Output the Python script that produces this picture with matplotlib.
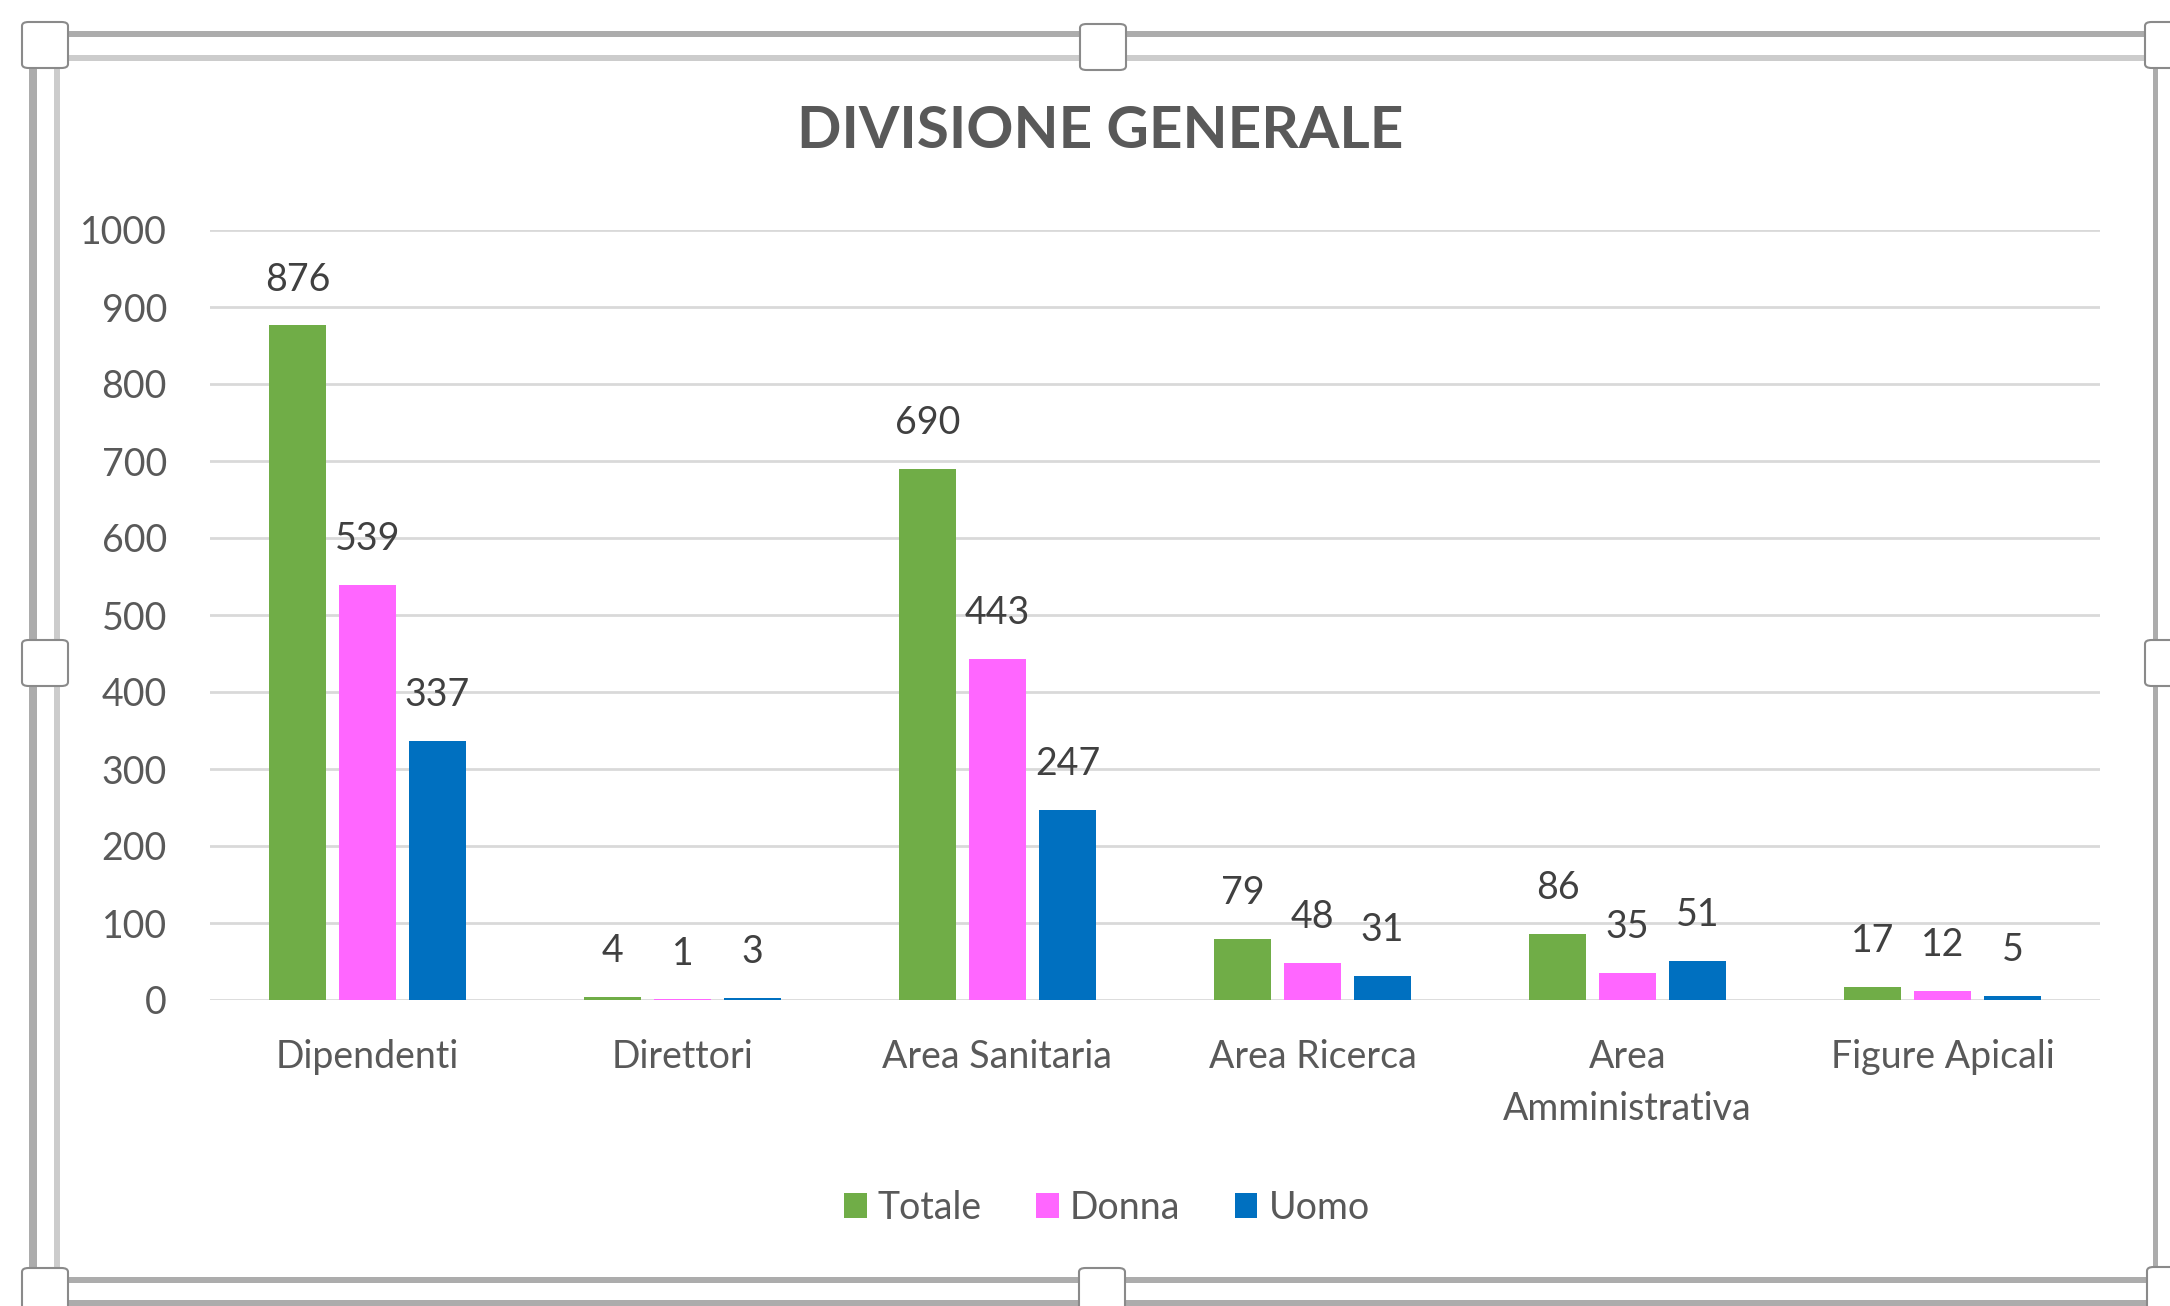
"""
Grouped bar chart: DIVISIONE GENERALE (Totale / Donna / Uomo by category),
drawn inside an Excel-like selection frame.
"""

import numpy as np
import matplotlib
matplotlib.use("Agg")
import matplotlib.pyplot as plt
from matplotlib.patches import Patch, FancyBboxPatch, Rectangle

# Data
categories = ["Dipendenti", "Direttori", "Area Sanitaria", "Area Ricerca",
              "Area\nAmministrativa", "Figure Apicali"]
totale = [876, 4, 690, 79, 86, 17]
donna = [539, 1, 443, 48, 35, 12]
uomo = [337, 3, 247, 31, 51, 5]
series_names = ["Totale", "Donna", "Uomo"]
colors = ["#70ad47", "#ff66ff", "#0070c0"]

W, H = 2170, 1306
plt.rcParams["font.family"] = ["Lato", "DejaVu Sans"]

fig = plt.figure(figsize=(W / 100, H / 100), dpi=100)
fig.patch.set_facecolor("white")


def fx(x):
    return x / W


def fy(y):
    return 1 - y / H


# Plot area (pixel box 210..2100 x 230..1000)
ax = fig.add_axes([fx(210), fy(1000), fx(2100) - fx(210), fy(230) - fy(1000)])

x = np.arange(len(categories))
width = 0.18
step = 0.222
for i, (vals, name, col) in enumerate(zip([totale, donna, uomo], series_names, colors)):
    pos = x + (i - 1) * step
    bars = ax.bar(pos, vals, width=width, color=col, zorder=3, label=name)
    for b, v in zip(bars, vals):
        ax.annotate(str(v), (b.get_x() + b.get_width() / 2, v),
                    xytext=(0, 25), textcoords="offset points",
                    ha="center", va="baseline", fontsize=27, color="#404040")

ax.set_xlim(-0.5, len(categories) - 0.5)
ax.set_ylim(0, 1000)
ax.set_yticks(range(0, 1001, 100))
ax.set_xticks(x)
ax.set_xticklabels(categories, linespacing=1.55)
ax.tick_params(axis="y", length=0, pad=31, labelsize=27, labelcolor="#595959")
ax.tick_params(axis="x", length=0, pad=28, labelsize=27, labelcolor="#595959")
ax.grid(axis="y", color="#d9d9d9", linewidth=2.0, zorder=0)
ax.set_axisbelow(True)
for s in ax.spines.values():
    s.set_visible(False)

# Title
fig.text(fx(1100), fy(132), "DIVISIONE GENERALE", ha="center", va="center",
         fontsize=42, fontweight="bold", color="#595959")

# Legend
handles = [Patch(facecolor=c, edgecolor="none") for c in colors]
fig.legend(handles, series_names, loc="center", bbox_to_anchor=(fx(1107), fy(1208)),
           ncol=3, frameon=False, fontsize=27, labelcolor="#595959",
           handlelength=0.6, handleheight=0.65, handletextpad=0.3,
           columnspacing=1.45)

# Selection frame of the screenshot
def band(y0, y1, x0, x1, col):
    fig.add_artist(Rectangle((fx(x0), fy(y1)), fx(x1) - fx(x0), fy(y0) - fy(y1),
                             transform=fig.transFigure, facecolor=col,
                             edgecolor="none", zorder=5))


band(31, 37, 33, 2160, "#acacac")      # outer top
band(55, 61, 57, 2156, "#cccccc")      # inner top
band(34, 1306, 29, 37, "#acacac")      # outer left
band(58, 1280, 54, 60, "#cccccc")      # inner left
band(58, 1280, 2153, 2158, "#acacac")  # right
band(1277, 1283, 57, 2158, "#acacac")  # inner bottom
band(1300, 1306, 33, 2170, "#acacac")  # outer bottom

handle_boxes = [(22, 22), (1080, 24), (2145, 22), (22, 640), (2145, 640),
                (22, 1268), (1079, 1268), (2147, 1267)]
for hx, hy in handle_boxes:
    fig.add_artist(FancyBboxPatch((fx(hx), fy(hy + 46)), fx(46), 46 / H,
                                  boxstyle="round,pad=0,rounding_size=0.003",
                                  transform=fig.transFigure, facecolor="white",
                                  edgecolor="#8a8a8a", linewidth=1.5, zorder=6))

fig.savefig("out.png", dpi=100)
